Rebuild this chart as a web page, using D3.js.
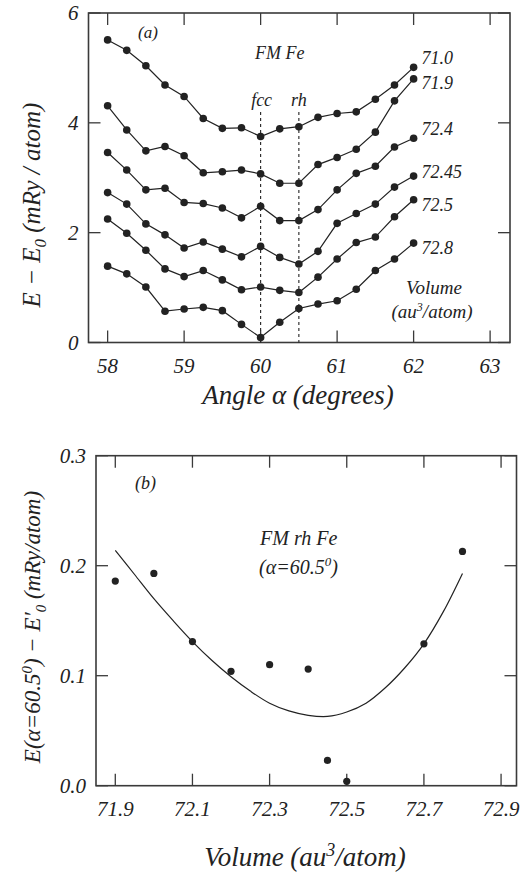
<!DOCTYPE html>
<html>
<head>
<meta charset="utf-8">
<script src="https://cdn.jsdelivr.net/npm/d3@7"></script>
<style>
  body { margin: 0; background: #fff; }
</style>
</head>
<body>
<svg id="chart" width="528" height="875"></svg>
<script>
// ---- panel (a): energy vs rhombohedral angle, one curve per volume
const angles = [58, 58.25, 58.5, 58.75, 59, 59.25, 59.5, 59.75, 60, 60.25, 60.5, 60.75, 61, 61.25, 61.5, 61.75, 62];
const volumeLabels = ["71.0", "71.9", "72.4", "72.45", "72.5", "72.8"];
const e71_0  = [5.51, 5.32, 5.04, 4.69, 4.48, 4.08, 3.90, 3.91, 3.75, 3.89, 3.93, 4.10, 4.17, 4.20, 4.43, 4.69, 5.01];
const e71_9  = [4.31, 3.87, 3.49, 3.57, 3.40, 3.09, 3.11, 3.14, 3.07, 2.90, 2.90, 3.24, 3.37, 3.52, 3.83, 4.40, 4.80];
const e72_4  = [3.46, 3.14, 2.78, 2.81, 2.55, 2.53, 2.45, 2.27, 2.48, 2.22, 2.22, 2.42, 2.78, 3.08, 3.21, 3.56, 3.72];
const e72_45 = [2.73, 2.52, 2.16, 1.96, 1.72, 1.83, 1.70, 1.56, 1.75, 1.55, 1.43, 1.66, 2.17, 2.35, 2.52, 2.83, 3.03];
const e72_5  = [2.25, 1.99, 1.68, 1.34, 1.20, 1.31, 1.14, 0.96, 1.01, 0.95, 0.91, 1.19, 1.52, 1.82, 1.92, 2.29, 2.60];
const e72_8  = [1.39, 1.25, 1.01, 0.57, 0.61, 0.64, 0.58, 0.33, 0.09, 0.37, 0.62, 0.70, 0.76, 0.97, 1.31, 1.52, 1.81];
const curvesA = [e71_0, e71_9, e72_4, e72_45, e72_5, e72_8];
const markerAngles = [60, 60.5];
const markerNames = ["fcc", "rh"];
const xTicksA = [58, 59, 60, 61, 62, 63];
const yTicksA = [0, 2, 4, 6];

// ---- panel (b): energy at 60.5 deg vs volume, with fitted curve
const volB = [71.9, 72.0, 72.1, 72.2, 72.3, 72.4, 72.45, 72.5, 72.7, 72.8];
const eB   = [0.186, 0.193, 0.131, 0.104, 0.110, 0.106, 0.023, 0.004, 0.129, 0.213];
const fitVol = [71.9, 71.95, 72.0, 72.05, 72.1, 72.15, 72.2, 72.25, 72.3, 72.35, 72.4, 72.45, 72.5, 72.55, 72.6, 72.65, 72.7, 72.75, 72.8];
const fitE   = [0.214, 0.192, 0.170, 0.150, 0.131, 0.114, 0.099, 0.086, 0.075, 0.068, 0.064, 0.063, 0.067, 0.075, 0.089, 0.107, 0.129, 0.158, 0.193];
const xTicksB = [71.9, 72.1, 72.3, 72.5, 72.7, 72.9];
const yTicksB = [0.0, 0.1, 0.2, 0.3];

const serif = "'Liberation Serif', 'DejaVu Serif', 'Noto Serif', 'Times New Roman', Times, serif";
const svg = d3.select("#chart")
    .attr("font-family", serif)
    .attr("font-style", "italic")
    .attr("fill", "#222");
const ink = "#222";
const frameInk = "#3a3a3a";
const tickLen = 12;

function drawFrame(g, x, y, xTicks, yTicks, fmtX, fmtY) {
    const [x0, x1] = x.range();
    const [y0, y1] = y.range(); // y0 bottom, y1 top

    g.append("rect")
        .attr("x", x0).attr("y", y1)
        .attr("width", x1 - x0).attr("height", y0 - y1)
        .attr("fill", "none").attr("stroke", frameInk).attr("stroke-width", 1.6);

    // inward ticks on all four sides
    const t = g.append("g").attr("stroke", frameInk).attr("stroke-width", 1.3);
    xTicks.forEach(v => {
        t.append("line").attr("x1", x(v)).attr("x2", x(v)).attr("y1", y0).attr("y2", y0 - tickLen);
        t.append("line").attr("x1", x(v)).attr("x2", x(v)).attr("y1", y1).attr("y2", y1 + tickLen);
    });
    yTicks.forEach(v => {
        t.append("line").attr("x1", x0).attr("x2", x0 + tickLen).attr("y1", y(v)).attr("y2", y(v));
        t.append("line").attr("x1", x1).attr("x2", x1 - tickLen).attr("y1", y(v)).attr("y2", y(v));
    });

    g.append("g").selectAll("text")
        .data(xTicks)
        .enter().append("text")
        .attr("x", d => x(d))
        .attr("y", y0 + 30)
        .attr("text-anchor", "middle")
        .attr("font-size", 21)
        .text(fmtX);

    g.append("g").selectAll("text")
        .data(yTicks)
        .enter().append("text")
        .attr("x", x0 - 10)
        .attr("y", d => y(d))
        .attr("dy", "0.35em")
        .attr("text-anchor", "end")
        .attr("font-size", 21)
        .text(fmtY);
}

// ===== panel (a)
const xA = d3.scaleLinear().domain([57.75, 63.26]).range([88.5, 510]);
const yA = d3.scaleLinear().domain([0, 6]).range([342.5, 13]);
const gA = svg.append("g");

drawFrame(gA, xA, yA, xTicksA, yTicksA, d => d, d => d);

// dashed markers for fcc and rh angles
markerAngles.forEach((a, i) => {
    gA.append("line")
        .attr("x1", xA(a)).attr("x2", xA(a))
        .attr("y1", 112).attr("y2", yA(0))
        .attr("stroke", ink).attr("stroke-width", 1.1)
        .attr("stroke-dasharray", "3,3");
    gA.append("text")
        .attr("x", xA(a) + (i === 0 ? 1 : 0))
        .attr("y", 106)
        .attr("text-anchor", "middle")
        .attr("font-size", 18)
        .text(markerNames[i]);
});

const lineA = d3.line()
    .x((d, i) => xA(angles[i]))
    .y(d => yA(d));

curvesA.forEach(vals => {
    gA.append("path")
        .attr("d", lineA(vals))
        .attr("fill", "none")
        .attr("stroke", ink)
        .attr("stroke-width", 1.2);
    gA.append("g").selectAll("circle")
        .data(vals)
        .enter().append("circle")
        .attr("cx", (d, i) => xA(angles[i]))
        .attr("cy", d => yA(d))
        .attr("r", 3.8)
        .attr("fill", ink);
});

const labelDy = [-10, 4, -10, -4, 5, 5];
curvesA.forEach((vals, k) => {
    gA.append("text")
        .attr("x", xA(62) + 8)
        .attr("y", yA(vals[vals.length - 1]) + labelDy[k])
        .attr("dy", "0.35em")
        .attr("font-size", 18)
        .text(volumeLabels[k]);
});

gA.append("text").attr("x", 138).attr("y", 38).attr("font-size", 17).text("(a)");
gA.append("text").attr("x", 255).attr("y", 59).attr("font-size", 18).text("FM Fe");
gA.append("text").attr("x", 434).attr("y", 294).attr("text-anchor", "middle").attr("font-size", 19).text("Volume");
const vu = gA.append("text").attr("x", 432).attr("y", 318).attr("text-anchor", "middle").attr("font-size", 19);
vu.append("tspan").text("(au");
vu.append("tspan").attr("font-size", 12).attr("dy", -7).text("3");
vu.append("tspan").attr("dy", 7).text("/atom)");

gA.append("text")
    .attr("x", 298)
    .attr("y", 404)
    .attr("text-anchor", "middle")
    .attr("font-size", 27)
    .text("Angle α  (degrees)");

const ylA = gA.append("text")
    .attr("transform", "translate(40,205) rotate(-90)")
    .attr("text-anchor", "middle")
    .attr("font-size", 25);
ylA.append("tspan").text("E − E");
ylA.append("tspan").attr("font-size", 17).attr("dy", 6).text("0");
ylA.append("tspan").attr("dy", -6).text(" (mRy / atom)");

// ===== panel (b)
const xB = d3.scaleLinear().domain([71.85, 72.94]).range([96, 516.5]);
const yB = d3.scaleLinear().domain([0, 0.3]).range([785.7, 455.7]);
const gB = svg.append("g");

drawFrame(gB, xB, yB, xTicksB, yTicksB, d3.format(".1f"), d3.format(".1f"));

gB.append("path")
    .attr("d", d3.line()
        .x((d, i) => xB(fitVol[i]))
        .y(d => yB(d))
        .curve(d3.curveCatmullRom)(fitE))
    .attr("fill", "none")
    .attr("stroke", ink)
    .attr("stroke-width", 1.2);

gB.append("g").selectAll("circle")
    .data(eB)
    .enter().append("circle")
    .attr("cx", (d, i) => xB(volB[i]))
    .attr("cy", d => yB(d))
    .attr("r", 3.6)
    .attr("fill", ink);

gB.append("text").attr("x", 135).attr("y", 489).attr("font-size", 18).text("(b)");
gB.append("text").attr("x", 260).attr("y", 545).attr("font-size", 20).text("FM rh Fe");
const al = gB.append("text").attr("x", 259).attr("y", 574).attr("font-size", 20);
al.append("tspan").text("(α=60.5");
al.append("tspan").attr("font-size", 13).attr("dy", -8).text("0");
al.append("tspan").attr("dy", 8).text(")");

const xlB = gB.append("text")
    .attr("x", 305)
    .attr("y", 866)
    .attr("text-anchor", "middle")
    .attr("font-size", 27);
xlB.append("tspan").text("Volume (au");
xlB.append("tspan").attr("font-size", 18).attr("dy", -10).text("3");
xlB.append("tspan").attr("dy", 10).text("/atom)");

const ylB = gB.append("text")
    .attr("transform", "translate(40,627) rotate(-90)")
    .attr("text-anchor", "middle")
    .attr("font-size", 23);
ylB.append("tspan").text("E(α=60.5");
ylB.append("tspan").attr("font-size", 15).attr("dy", -8).text("0");
ylB.append("tspan").attr("dy", 8).text(") − E′");
ylB.append("tspan").attr("font-size", 15).attr("dy", 6).text("0");
ylB.append("tspan").attr("dy", -6).text(" (mRy/atom)");
</script>
</body>
</html>
